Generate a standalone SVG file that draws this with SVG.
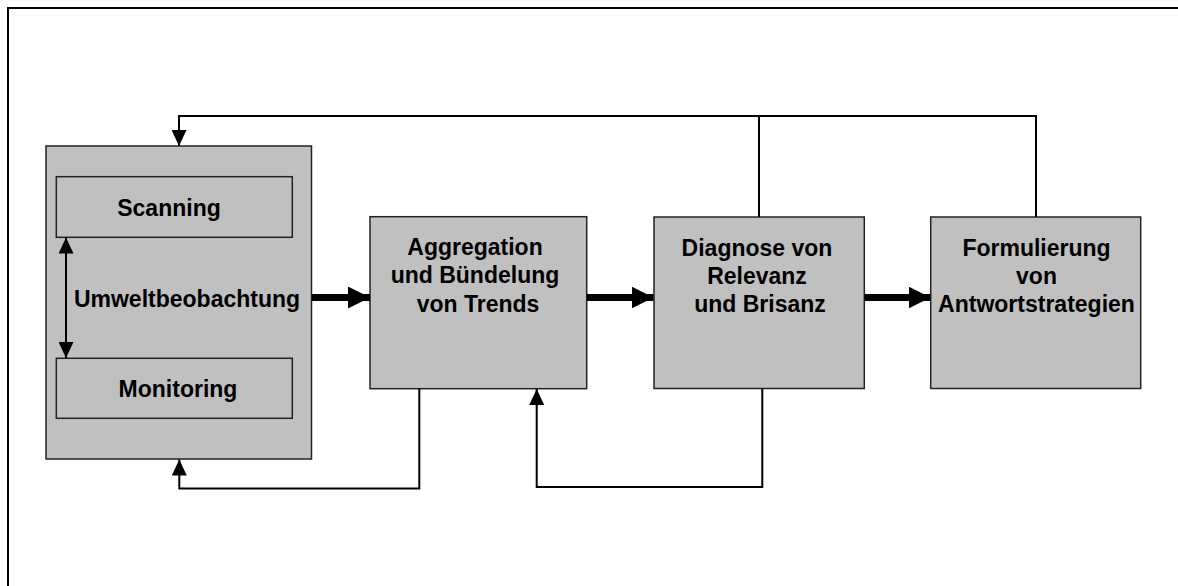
<svg xmlns="http://www.w3.org/2000/svg" width="1178" height="586" viewBox="0 0 1178 586">
<style>
.box{fill:#C0C0C0;stroke:#222;stroke-width:1.5}
.t{font-family:"Liberation Sans",Arial,sans-serif;font-weight:bold;font-size:23px;fill:#000;text-anchor:middle}
.thin{fill:none;stroke:#000;stroke-width:2}
.thick{fill:none;stroke:#000;stroke-width:7}
</style>
<defs>
<marker id="ah" markerUnits="userSpaceOnUse" viewBox="0 0 16 15" refX="16" refY="7.5" markerWidth="16" markerHeight="15" orient="auto-start-reverse"><path d="M0,0 L16,7.5 L0,15 Z" fill="#000"/></marker>
<marker id="ahb" markerUnits="userSpaceOnUse" viewBox="0 0 22 22" refX="22" refY="11" markerWidth="22" markerHeight="22" orient="auto"><path d="M0,0 L22,11 L0,22 Z" fill="#000"/></marker>
</defs>
<rect width="1178" height="586" fill="#fff"/>
<path d="M8,586 V8 H1178" fill="none" stroke="#000" stroke-width="2"/>
<g id="umwelt">
<rect class="box" x="46" y="146" width="265.5" height="313"/>
<g id="scanning"><rect class="box" x="56.3" y="176.7" width="236" height="60.6"/><text class="t" x="169" y="216">Scanning</text></g>
<g id="monitoring"><rect class="box" x="56.3" y="358.3" width="236" height="60"/><text class="t" x="178" y="396.7">Monitoring</text></g>
<text class="t" x="187" y="306.7">Umweltbeobachtung</text>
</g>
<g id="aggregation">
<rect class="box" x="370" y="216.7" width="216.7" height="172"/>
<text class="t" x="475" y="255">Aggregation</text>
<text class="t" x="475" y="283">und Bündelung</text>
<text class="t" x="478" y="311.5">von Trends</text>
</g>
<g id="diagnose">
<rect class="box" x="654" y="217" width="210.3" height="171.5"/>
<text class="t" x="757" y="256">Diagnose von</text>
<text class="t" x="757" y="284">Relevanz</text>
<text class="t" x="760" y="312">und Brisanz</text>
</g>
<g id="formulierung">
<rect class="box" x="930.7" y="217" width="210" height="171.5"/>
<text class="t" x="1036.5" y="256">Formulierung</text>
<text class="t" x="1036.5" y="284">von</text>
<text class="t" x="1036.5" y="312">Antwortstrategien</text>
</g>
<g id="connectors">
<path class="thin" d="M66,237.5 V358" marker-start="url(#ah)" marker-end="url(#ah)"/>
<path class="thick" d="M312,297.5 H370" marker-end="url(#ahb)"/>
<path class="thick" d="M587,297.5 H653.5" marker-end="url(#ahb)"/>
<path class="thick" d="M864.5,297.5 H930.5" marker-end="url(#ahb)"/>
<path class="thin" d="M1036,217 V116 H179 V146" marker-end="url(#ah)"/>
<path class="thin" d="M759,217 V116"/>
<path class="thin" d="M419.3,388.7 V488.5 H179.3 V459.5" marker-end="url(#ah)"/>
<path class="thin" d="M762.3,388.7 V487 H536.7 V389" marker-end="url(#ah)"/>
</g>
</svg>
